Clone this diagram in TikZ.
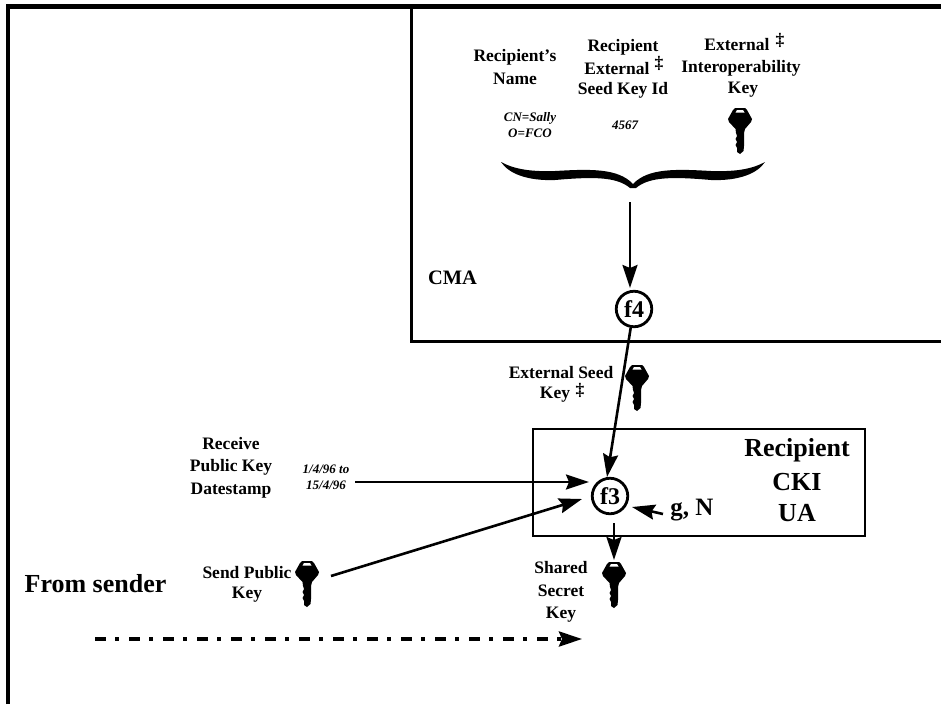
\documentclass[tikz,border=0pt]{standalone}
\usepackage{fontspec}
\setmainfont{Liberation Serif}
\usetikzlibrary{arrows.meta}
\newcommand{\bfpx}[1]{\fontsize{#1}{#1}\selectfont\bfseries}
\tikzset{
  lbl/.style={inner sep=0pt,align=center,font=\bfpx{17.5}},
  smalllbl/.style={inner sep=0pt,align=center,font=\bfpx{13}\itshape},
  biglbl/.style={inner sep=0pt,align=center,font=\bfpx{26}},
  frame/.style={line width=4.5pt},
  boxline/.style={line width=2.6pt},
  fn/.style={circle,draw,line width=2.8pt,minimum size=35.5pt,inner sep=0pt,fill=white,font=\bfpx{24}},
  conn/.style={line width=2.6pt,-{Stealth[length=23pt,width=15pt,inset=3pt]}},
  keyicon/.pic={
    \fill[black] (-5,0) -- (5,0) -- (7,2) -- (12,11) -- (11,14) -- (5,21) -- (4,25)
      -- (4,38) -- (3.5,43) -- (0,46) -- (-3,44) -- (-3,40) -- (-4.5,37) -- (-3,34)
      -- (-4.5,31) -- (-3,28) -- (-4,25) -- (-4.5,21) -- (-11,14) -- (-12,11) -- (-7,2) -- cycle;
    \fill[white] (-3,2) -- (3,2) -- (4.5,4.5) -- (-4.5,4.5) -- cycle;
  }
}
\begin{document}
\begin{tikzpicture}[x=1pt,y=-1pt]
\useasboundingbox (0,0) rectangle (941,704);
% frame and boxes
\draw[frame] (8,704) -- (8,6.5) -- (941,6.5);
\draw[boxline] (411.5,6.5) -- (411.5,341.5) -- (941,341.5);
\draw[boxline] (533,429) rectangle (865,536);
% brace
\fill[black] (501,162) .. controls (512,168) and (527,172) .. (555,171)
  .. controls (590,169) and (618,168) .. (633,184)
  .. controls (648,168) and (676,169) .. (711,171)
  .. controls (739,172) and (754,168) .. (765,162)
  .. controls (757,174) and (738,181) .. (711,180)
  .. controls (676,177) and (650,176) .. (636,188) -- (630,188)
  .. controls (616,176) and (590,177) .. (555,180)
  .. controls (528,181) and (509,174) .. (501,162) -- cycle;
% text
\node[lbl] (name) at (515,67) {Recipient’s\\[5pt]Name};
\node[lbl] (seedA) at (623,47) {Recipient};
\node[lbl] (seedB) at (617,69) {External};
\node[lbl] (seedC) at (623,90) {Seed Key Id};
\node[lbl] (dg1) at (659,63) {‡};
\node[lbl] (intA) at (737,45) {External};
\node[lbl] (intB) at (741,68) {Interoperability};
\node[lbl] (intC) at (743,90) {Key};
\node[lbl] (dg2) at (780,40) {‡};
\node[smalllbl] (cn) at (530,125) {CN=Sally\\[3pt]O=FCO};
\node[smalllbl] (num) at (625,125) {4567};
\node[inner sep=0pt,font=\bfpx{20.5}] (cma) at (452.5,278) {CMA};
\node[lbl] (extseed) at (561,373) {External Seed};
\node[lbl] (extkey) at (555,395) {Key};
\node[lbl] (dg3) at (580,390) {‡};
\node[lbl] (recv) at (231,467.5) {Receive\\[5pt]Public Key\\[5pt]Datestamp};
\node[smalllbl] (dates) at (326,477) {1/4/96 to\\[3pt]15/4/96};
\node[lbl] (sendpub) at (247,573) {Send Public};
\node[lbl] (sendkey) at (247,595) {Key};
\node[inner sep=0pt,font=\bfpx{26}] (from) at (95.5,584) {From sender};
\node[lbl] (shared) at (561,592) {Shared\\[5pt]Secret\\[5pt]Key};
\node[biglbl] (recip) at (797,450) {Recipient};
\node[biglbl] (cki) at (797,482) {CKI};
\node[biglbl] (ua) at (797,513) {UA};
\node[inner sep=0pt,font=\bfpx{25}] (gn) at (692,510) {g, N};
% keys
\pic (k1) at (740,108) {keyicon};
\pic (k2) at (637,365) {keyicon};
\pic (k3) at (307,561) {keyicon};
\pic (k4) at (614,562) {keyicon};
% functions
\node[fn] (f4) at (634,309) {f4};
\node[fn] (f3) at (610,496) {f3};
% free ends
\coordinate (braceTip) at (630,202);
\coordinate (f4Tip) at (630,288);
\coordinate (dateEnd) at (355,482);
\coordinate (dateTip) at (589,482);
\coordinate (sendStart) at (331,576);
\coordinate (sendTip) at (582,499);
\coordinate (gStart) at (663,514);
\coordinate (gTip) at (632,507);
\coordinate (dashStart) at (95,639);
\coordinate (dashTip) at (582,639);
\coordinate (f3low) at (614,523);
\coordinate (keyTop) at (614,560);
% connectors
\draw[conn] (braceTip) -- (f4Tip);
\draw[conn] (f4.260) -- (f3.99);
\draw[conn] (dateEnd) -- (dateTip);
\draw[conn] (sendStart) -- (sendTip);
\draw[conn] (gStart) -- (gTip);
\draw[conn] (f3low) -- (keyTop);
\draw[line width=3.6pt,dash pattern=on 11pt off 9pt on 4pt off 10pt,-{Stealth[length=23pt,width=15pt,inset=3pt]}] (dashStart) -- (dashTip);
\end{tikzpicture}
\end{document}
